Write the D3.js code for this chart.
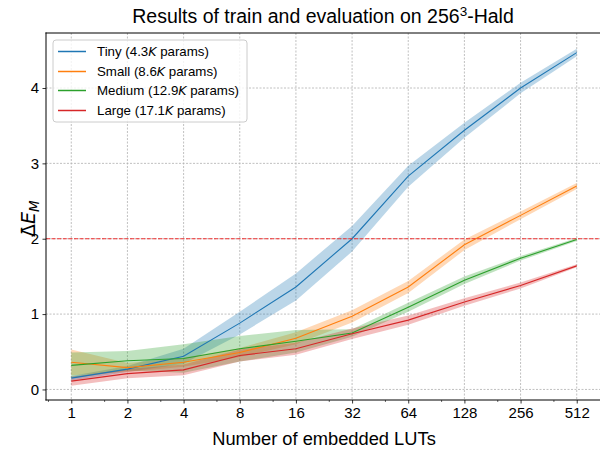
<!DOCTYPE html>
<html>

<head>
  <title>LUT results</title>
  <script src="https://cdn.jsdelivr.net/npm/d3@7"></script>
  <style>
    body { margin: 0; background: #fff; }
    text { font-family: "Liberation Sans", Arial, sans-serif; fill: #000; }
  </style>
</head>

<body>
  <svg width="600" height="451" id="mainsvg"></svg>
  <script>
    const svg = d3.select('#mainsvg');
    const width = +svg.attr('width');
    const height = +svg.attr('height');
    const margin = { top: 33, right: -2, bottom: 51, left: 46 };
    const innerWidth = width - margin.left - margin.right;
    const innerHeight = height - margin.top - margin.bottom;
    const visWidth = width - margin.left;

    // data
    const luts = [1, 2, 4, 8, 16, 32, 64, 128, 256, 512];
    const yTicks = [0, 1, 2, 3, 4];
    const modelNames = ['Tiny', 'Small', 'Medium', 'Large'];
    const modelParams = ['4.3', '8.6', '12.9', '17.1'];
    const colors = ['#1f77b4', '#ff7f0e', '#2ca02c', '#d62728'];
    const tinyMean = [0.15, 0.27, 0.44, 0.88, 1.36, 2.00, 2.83, 3.44, 4.00, 4.47];
    const tinyStd = [0.03, 0.04, 0.10, 0.15, 0.18, 0.17, 0.14, 0.10, 0.07, 0.05];
    const smallMean = [0.36, 0.29, 0.36, 0.49, 0.68, 0.97, 1.36, 1.92, 2.31, 2.70];
    const smallStd = [0.17, 0.06, 0.06, 0.06, 0.08, 0.08, 0.08, 0.07, 0.05, 0.04];
    const mediumMean = [0.32, 0.38, 0.41, 0.54, 0.64, 0.75, 1.09, 1.45, 1.74, 1.99];
    const mediumStd = [0.17, 0.13, 0.19, 0.17, 0.15, 0.05, 0.06, 0.05, 0.03, 0.02];
    const largeMean = [0.11, 0.21, 0.26, 0.45, 0.54, 0.74, 0.92, 1.16, 1.38, 1.64];
    const largeStd = [0.06, 0.06, 0.07, 0.08, 0.08, 0.07, 0.06, 0.05, 0.04, 0.02];
    const threshold = 2;

    const series = [
      { mean: tinyMean, std: tinyStd },
      { mean: smallMean, std: smallStd },
      { mean: mediumMean, std: mediumStd },
      { mean: largeMean, std: largeStd }
    ];

    const xScale = d3.scaleLog().base(2)
      .domain([Math.pow(2, -0.45), Math.pow(2, 9.45)])
      .range([0, innerWidth]);
    const yScale = d3.scaleLinear()
      .domain([-0.14, 4.73])
      .range([innerHeight, 0]);

    svg.append('defs').append('clipPath').attr('id', 'clip')
      .append('rect').attr('width', visWidth).attr('height', innerHeight);

    const g = svg.append('g')
      .attr('transform', `translate(${margin.left}, ${margin.top})`);

    // grid
    const grid = g.append('g').attr('clip-path', 'url(#clip)');
    grid.selectAll('.vgrid').data(luts).join('line')
      .attr('x1', d => xScale(d)).attr('x2', d => xScale(d))
      .attr('y1', 0).attr('y2', innerHeight)
      .attr('stroke', '#b0b0b0').attr('stroke-width', 0.8).attr('stroke-dasharray', '2,1.5');
    grid.selectAll('.hgrid').data(yTicks).join('line')
      .attr('x1', 0).attr('x2', visWidth)
      .attr('y1', d => yScale(d)).attr('y2', d => yScale(d))
      .attr('stroke', '#b0b0b0').attr('stroke-width', 0.8).attr('stroke-dasharray', '2,1.5');

    const plot = g.append('g').attr('clip-path', 'url(#clip)');

    // bands (mean ± std)
    const area = d3.area()
      .x((d, i) => xScale(luts[i]))
      .y0(d => yScale(d[0] - d[1]))
      .y1(d => yScale(d[0] + d[1]));
    series.forEach((s, k) => {
      plot.append('path')
        .datum(s.mean.map((m, i) => [m, s.std[i]]))
        .attr('d', area)
        .attr('fill', colors[k]).attr('fill-opacity', 0.3);
    });

    // lines
    const line = d3.line().x((d, i) => xScale(luts[i])).y(d => yScale(d));
    series.forEach((s, k) => {
      plot.append('path')
        .datum(s.mean)
        .attr('d', line)
        .attr('fill', 'none').attr('stroke', colors[k]).attr('stroke-width', 1.1);
    });

    // threshold
    plot.append('line')
      .attr('x1', 0).attr('x2', visWidth)
      .attr('y1', yScale(threshold)).attr('y2', yScale(threshold))
      .attr('stroke', '#f03030').attr('stroke-width', 1.1).attr('stroke-dasharray', '4,1.6');

    // axes
    const xAxis = d3.axisBottom(xScale).tickValues(luts).tickFormat(d3.format('d'))
      .tickSize(3.5).tickPadding(3.5);
    const xa = g.append('g').attr('transform', `translate(0, ${innerHeight})`).call(xAxis);
    const minor = d3.range(-1, 9).map(e => 1.5 * Math.pow(2, e)).filter(v => xScale(v) < visWidth);
    const xm = g.append('g').attr('transform', `translate(0, ${innerHeight})`)
      .call(d3.axisBottom(xScale).tickValues(minor).tickFormat('').tickSize(2));
    xm.select('.domain').remove();
    xm.selectAll('text').remove();
    xm.selectAll('line').attr('stroke-width', 0.6);

    const ya = g.append('g').call(d3.axisLeft(yScale).tickValues(yTicks).tickFormat(d3.format('d'))
      .tickSize(3.5).tickPadding(3.5));
    [xa, ya].forEach(a => {
      a.select('.domain').remove();
      a.selectAll('line').attr('stroke-width', 0.8);
      a.selectAll('text').attr('font-size', 15).attr('font-family', '"Liberation Sans", Arial, sans-serif');
    });

    // spines (right spine falls outside the picture)
    const spines = [[0, 0, visWidth, 0], [0, innerHeight, visWidth, innerHeight], [0, 0, 0, innerHeight]];
    g.selectAll('.spine').data(spines).join('line')
      .attr('x1', d => d[0]).attr('y1', d => d[1]).attr('x2', d => d[2]).attr('y2', d => d[3])
      .attr('stroke', '#000').attr('stroke-width', 1).attr('stroke-linecap', 'square');

    // title & labels
    const title = svg.append('text')
      .attr('x', margin.left + innerWidth / 2 - 1).attr('y', 23)
      .attr('text-anchor', 'middle').attr('font-size', 19.5);
    title.append('tspan').text('Results of train and evaluation on 256');
    title.append('tspan').attr('dy', -7).attr('font-size', 13.5).text('3');
    title.append('tspan').attr('dy', 7).text('-Hald');

    svg.append('text')
      .attr('x', margin.left + innerWidth / 2).attr('y', 445)
      .attr('text-anchor', 'middle').attr('font-size', 18.3)
      .text('Number of embedded LUTs');

    const ylab = svg.append('g')
      .attr('transform', `translate(35, 237) rotate(-90)`);
    const ytxt = ylab.append('text').attr('x', 0).attr('y', 0).attr('font-size', 19)
      .style('font-family', '"DejaVu Sans", sans-serif');
    ytxt.append('tspan').text('\u0394');
    ytxt.append('tspan').attr('font-style', 'italic').text('E');
    ytxt.append('tspan').attr('font-style', 'italic').attr('font-size', 13.5).attr('dy', 4).text('M');
    ylab.append('text').attr('x', 6.5).attr('y', 0.5).attr('font-size', 19)
      .attr('text-anchor', 'middle')
      .style('font-family', '"DejaVu Sans", sans-serif')
      .text('\u00AF');

    // legend
    const legend = g.append('g').attr('transform', 'translate(7, 7)');
    legend.append('rect').attr('width', 194).attr('height', 82).attr('rx', 3)
      .attr('fill', '#fff').attr('fill-opacity', 0.8)
      .attr('stroke', '#cccccc').attr('stroke-width', 1);
    const rowY = [11.5, 31.5, 50.5, 70.5];
    modelNames.forEach((name, i) => {
      const row = legend.append('g').attr('transform', `translate(0, ${rowY[i]})`);
      row.append('line').attr('x1', 5).attr('x2', 33).attr('y1', 0).attr('y2', 0)
        .attr('stroke', colors[i]).attr('stroke-width', 1.5);
      let x = 44;
      const a = row.append('text').attr('x', x).attr('y', 4.8).attr('font-size', 13.3)
        .text(`${name} (${modelParams[i]}`);
      x += a.node().getComputedTextLength();
      const k = row.append('text').attr('x', x).attr('y', 4.8).attr('font-size', 12.5)
        .attr('font-style', 'italic').style('font-family', '"DejaVu Sans", sans-serif').text('K');
      x += k.node().getComputedTextLength();
      row.append('text').attr('x', x).attr('y', 4.8).attr('font-size', 13.3).text(' params)')
        .attr('xml:space', 'preserve').style('white-space', 'pre');
    });
  </script>
</body>

</html>
